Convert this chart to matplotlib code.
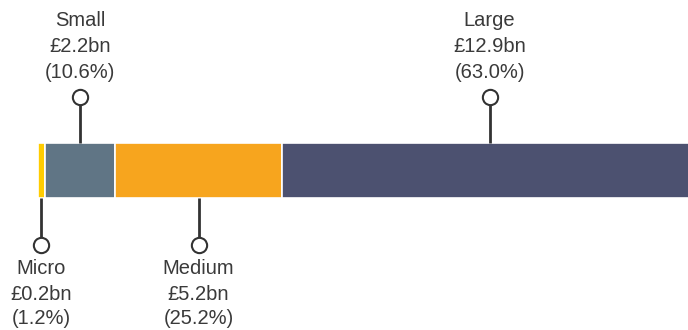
import matplotlib.pyplot as plt

# Доли по размеру компаний
categories = ['Micro', 'Small', 'Medium', 'Large']
values_bn = [0.2, 2.2, 5.2, 12.9]
shares = [1.2, 10.6, 25.2, 63.0]
colors = ['#FFCC00', '#607585', '#F7A51E', '#4C5170']
label_side = ['below', 'above', 'below', 'above']

plt.rcParams['font.family'] = ['Liberation Sans', 'DejaVu Sans']

fig = plt.figure(figsize=(6.88, 3.30), dpi=100)
ax = fig.add_axes([0, 0, 1, 1])

# Ось x в процентах, ось y в пикселях сверху вниз
px = 6.6
ax.set_xlim(-37.5 / px, (688 - 37.5) / px)
ax.set_ylim(330, 0)
ax.axis('off')

bar_y, bar_h = 170.5, 55
left = 0
text_color = '#3a3a3a'
for name, val, share, col, side in zip(categories, values_bn, shares, colors, label_side):
    ax.barh(bar_y, share, left=left, height=bar_h, color=col,
            edgecolor='white', linewidth=1.2)
    cx = left + share / 2
    if side == 'above':
        y_edge, y_circ = bar_y - bar_h / 2, 97
        lines_y = [20, 46, 72]
    else:
        y_edge, y_circ = bar_y + bar_h / 2, 245
        lines_y = [269, 295, 319]
    # выноска: линия и кружок
    ax.plot([cx, cx], [y_edge, y_circ], color='#333333', lw=2, zorder=3,
            solid_capstyle='butt')
    ax.plot(cx, y_circ, 'o', ms=11, mfc='white', mec='#333333', mew=1.5, zorder=4)
    texts = [name, f'£{val:.1f}bn', f'({share:.1f}%)']
    for t, ty in zip(texts, lines_y):
        ax.text(cx, ty, t, ha='center', va='center', fontsize=14.5, color=text_color)
    left += share

fig.savefig('out.png', dpi=100)
